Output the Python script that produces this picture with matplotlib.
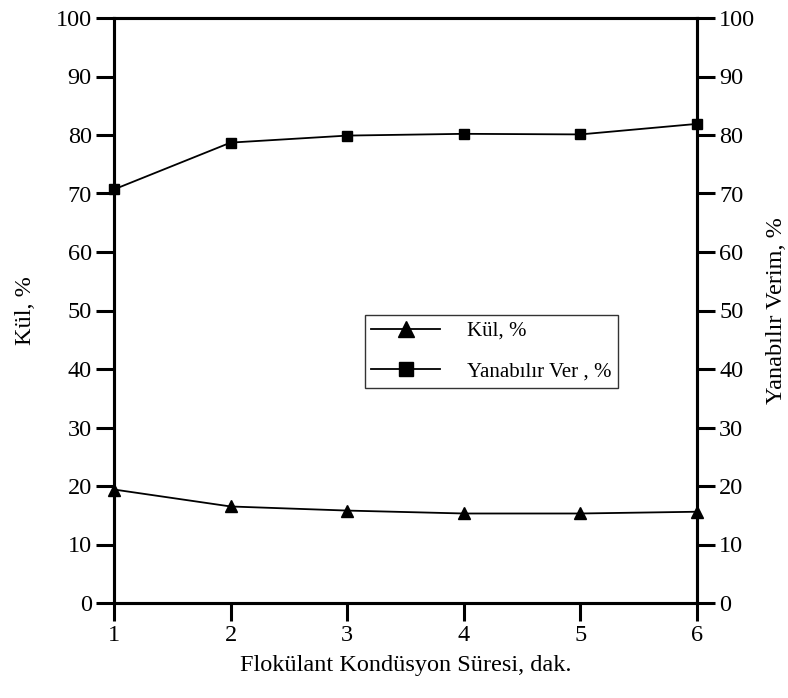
import matplotlib
matplotlib.use("Agg")
import matplotlib.pyplot as plt

sure = [1, 2, 3, 4, 5, 6]
kul = [19.4, 16.5, 15.8, 15.3, 15.3, 15.6]
yanabilir = [70.7, 78.7, 79.9, 80.2, 80.1, 81.9]
yticks = [0, 10, 20, 30, 40, 50, 60, 70, 80, 90, 100]

plt.rcParams['font.family'] = ['Liberation Serif', 'DejaVu Serif']

fig = plt.figure(figsize=(7.88, 6.98), dpi=100)
ax = fig.add_axes([114/788, 1-603/698, (697-114)/788, (603-18)/698])
ax2 = ax.twinx()

l1, = ax.plot(sure, kul, color='black', lw=1.3, marker='^', ms=8, clip_on=False, zorder=5)
l2, = ax2.plot(sure, yanabilir, color='black', lw=1.3, marker='s', ms=7.5, clip_on=False, zorder=5)

for a in (ax, ax2):
    a.set_xlim(1, 6)
    a.set_ylim(0, 100)
    a.set_yticks(yticks)
    for s in a.spines.values():
        s.set_linewidth(2.2)
    a.tick_params(width=2.2, length=13, labelsize=17.5, pad=3)

ax.set_xticks(sure)
ax.tick_params(axis='x', pad=3)
ax.set_xlabel('Flokülant Kondüsyon Süresi, dak.', fontsize=17.5, labelpad=6)
ax.set_ylabel('Kül, %', fontsize=17.5, labelpad=14)
ax2.set_ylabel('Yanabılır Verim, %', fontsize=17.5, labelpad=8)

leg = fig.legend([l1, l2], ['Kül, %', 'Yanabılır Ver , %'],
                 loc='upper left', bbox_to_anchor=(365/788, 1-315/698),
                 borderaxespad=0, frameon=True, fancybox=False, fontsize=15,
                 handlelength=3.3, borderpad=0.3, labelspacing=1.0,
                 handletextpad=1.3, markerscale=1.4)
leg.get_frame().set_edgecolor('black')
leg.get_frame().set_linewidth(1.0)

fig.savefig('out.png', dpi=100)
